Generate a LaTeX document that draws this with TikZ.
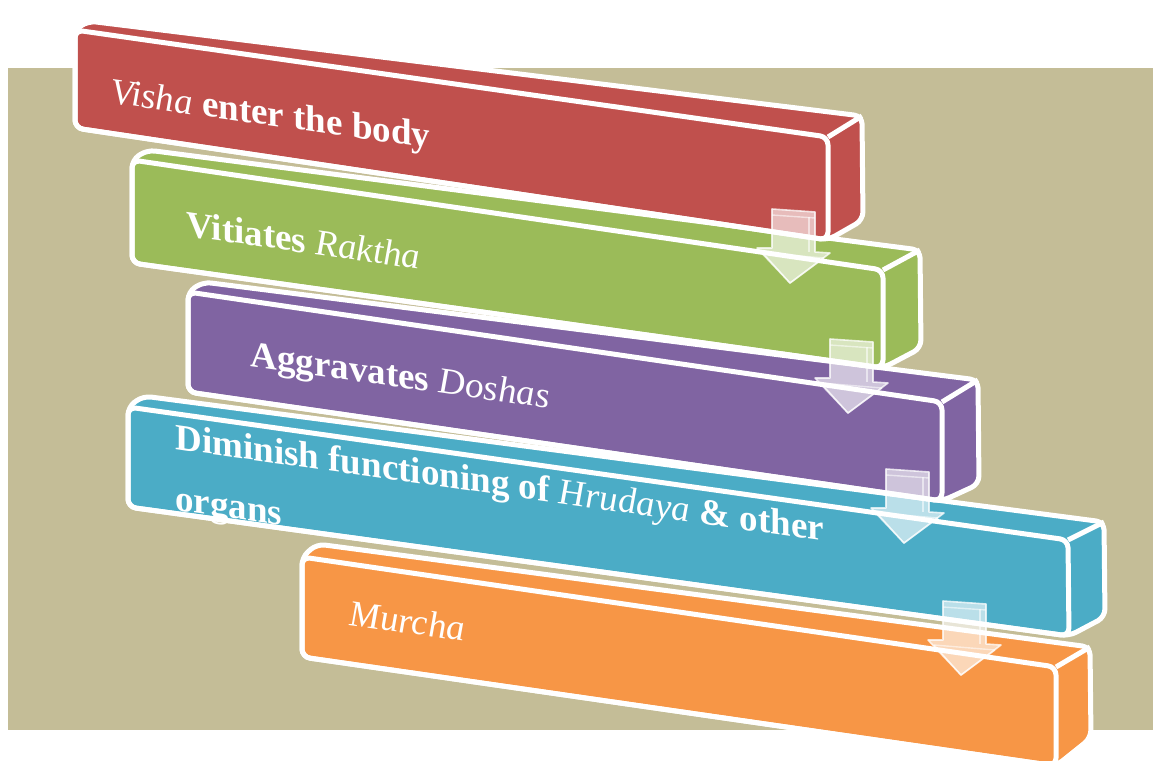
\documentclass[tikz,border=0pt]{standalone}
\usepackage{fontspec}
\setmainfont{Liberation Serif}
\definecolor{tanbg}{HTML}{C4BD97}
\definecolor{barred}{HTML}{C0504D}
\definecolor{bargreen}{HTML}{9BBB59}
\definecolor{barpurple}{HTML}{8064A2}
\definecolor{barblue}{HTML}{4BACC6}
\definecolor{barorange}{HTML}{F79646}
\newcommand{\itw}[1]{{\mdseries\itshape #1}}
% #1 colour, #2 front-left-top, #3 front-left-bottom, #4 front-right-top,
% #5 front-right-bottom, #6 back-left-top, #7 back-right-top, #8 back-right-bottom
\newcommand{\drawslab}[8]{%
  \filldraw[barline, fill=#1] #2 -- #6 -- #7 -- #8 -- #5 -- #3 -- cycle;
  \draw[barline] #2 -- #4 -- #5 -- #3 -- cycle;
  \draw[barline] #4 -- #7;
}
\tikzset{
  barline/.style={draw=white, line width=2.5pt, rounded corners=4pt, line join=round},
  bartext/.style={text=white, font=\fontsize{18.5}{22}\selectfont\bfseries,
    anchor=base west, inner sep=0pt, yslant=-0.142},
  arrowfill/.style={fill=white, fill opacity=0.62, draw=white, draw opacity=0.75,
    line width=0.8pt, line join=round},
  arrowinner/.style={draw=white, draw opacity=0.55, line width=0.7pt},
  blockarrow/.pic={
    \filldraw[arrowfill] (0,2) -- (43,5) -- (43,45) -- (58,46) -- (18,76)
      -- (-15,41) -- (0,41) -- cycle;
    \draw[arrowinner] (0,8) -- (43,11);
    \draw[arrowinner] (37,10) -- (37,45);
    \draw[arrowinner] (-9,46) -- (52,51);
    \draw[arrowinner] (-9,46) -- (18,76) -- (52,51);
  }
}
\begin{document}
\begin{tikzpicture}[x=0.5pt, y=-0.5pt]
\useasboundingbox (0,0) rectangle (1153,761);
\clip (0,0) rectangle (1153,761);
\fill[tanbg] (8,68) rectangle (1153,730);

% orange bar
\drawslab{barorange}{(302,557)}{(302,657)}{(1056,667)}{(1056,766)}{(317,544)}{(1090,647)}{(1091,738)}
\node[bartext] (t5) at (349,625) {\itw{Murcha}};

% blue bar
\drawslab{barblue}{(128,407)}{(128,507)}{(1068,540)}{(1069,636)}{(143,396)}{(1104,522)}{(1105,617)}
\node[bartext] (t4a) at (175,449) {Diminish functioning of \itw{Hrudaya} \& other};
\node[bartext] (t4b) at (175,510) {organs};

% purple bar
\drawslab{barpurple}{(188,292)}{(188,392)}{(942,402)}{(942,501)}{(203,282)}{(978,380)}{(979,484)}
\node[bartext] (t3) at (250,366) {Aggravates \itw{Doshas}};

% green bar
\drawslab{bargreen}{(132,160)}{(132,263)}{(883,270)}{(883,368)}{(147,150)}{(920,250)}{(921,348)}
\node[bartext] (t2) at (186,236) {Vitiates \itw{Raktha}};

% red bar
\drawslab{barred}{(75,30)}{(75,128)}{(828,137)}{(828,240)}{(88,21)}{(862,116)}{(863,220)}
\node[bartext] (t1) at (111,103) {\itw{Visha} enter the body};

% arrows
\pic at (772,207) {blockarrow};
\pic at (830,337) {blockarrow};
\pic at (886,467) {blockarrow};
\pic at (943,599) {blockarrow};
\end{tikzpicture}
\end{document}
